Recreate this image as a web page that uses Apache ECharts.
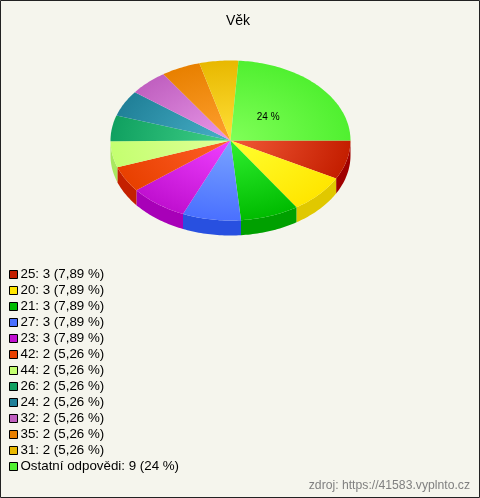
<!DOCTYPE html>
<html><head><meta charset="utf-8">
<style>html,body{margin:0;padding:0;background:#f5f5ed}#c{width:480px;height:498px}</style>
<script src="https://cdn.jsdelivr.net/npm/echarts@6/dist/echarts.min.js"></script>
</head><body><div id="c"></div>
<script>
const categories=['25','20','21','27','23','42','44','26','24','32','35','31','Ostatní odpovědi'];
const counts=[3,3,3,3,3,2,2,2,2,2,2,2,9];
const percents=[7.89,7.89,7.89,7.89,7.89,5.26,5.26,5.26,5.26,5.26,5.26,5.26,24];
const baseColors=['#c41e00','#ffe600','#00bb00','#4a70ff','#c010d0','#e84000','#c4ff70','#10a060','#208098','#c060c0','#e88000','#e8b800','#50f030'];
const lightColors=['#f25a38','#ffff30','#30f030','#7aa4ff','#f040ff','#ff6028','#e0ff98','#40d088','#48b0c8','#e898e8','#ffa030','#ffe038','#80ff58'];
const sideColors=['#a00000','#e0c800','#00a000','#2850e0','#a800b8','#c42000','#a8e860','#088048','#106878','#a048a0','#c86800','#c89800','#40d020'];
const cx=230.5,cy=140.5,rx=120,ry=80,depth=15;
const total=percents.reduce((a,b)=>a+b,0);
function arc(a,b,r,dy){const n=Math.max(2,Math.ceil((b-a)/0.02));const p=[];for(let i=0;i<=n;i++){const t=a+(b-a)*i/n;p.push([r*Math.cos(t),r*Math.sin(t)+dy]);}return p;}
function makeRender(idx){
  const before=percents.slice(0,idx).reduce((a,b)=>a+b,0);
  return function(params,api){
    const v=api.value(0);
    const a=before/total*2*Math.PI,b=(before+v)/total*2*Math.PI;
    const k=ry/rx,children=[];
    if(a<Math.PI){
      const sb=Math.min(b,Math.PI);
      const top=arc(a,sb,rx,0),bot=arc(a,sb,rx,depth/k).reverse();
      children.push({type:'polygon',z2:1,shape:{points:top.concat(bot)},style:{fill:sideColors[idx]}});
    }
    const fill={type:'radial',x:0,y:0,r:rx,global:true,colorStops:[{offset:0,color:lightColors[idx]},{offset:1,color:baseColors[idx]}]};
    children.push({type:'polygon',z2:2,shape:{points:[[0,0]].concat(arc(a,b,rx,0))},style:{fill:fill}});
    const out=[{type:'group',x:cx,y:cy,scaleY:k,children:children}];
    if(v/total>0.1){
      const m=(a+b)/2;
      out.push({type:'text',z2:3,x:cx+rx*0.43*Math.cos(m),y:cy+ry*0.43*Math.sin(m),
        style:{text:Math.round(v)+' %',fill:'#000',font:'10px "Liberation Sans"',align:'center',verticalAlign:'middle'}});
    }
    return {type:'group',children:out};
  };
}
const fmt=p=>Number.isInteger(p)?String(p):p.toFixed(2).replace('.',',');
const labels=categories.map((c,i)=>c+': '+counts[i]+' ('+fmt(percents[i])+' %)');
const series=labels.map((name,i)=>({
  type:'custom',name:name,coordinateSystem:'none',data:[[percents[i]]],
  itemStyle:{color:baseColors[i]},renderItem:makeRender(i),silent:true,animation:false
}));
const chart=echarts.init(document.getElementById('c'),null,{renderer:'canvas'});
chart.setOption({
  animation:false,backgroundColor:'#f5f5ed',
  title:{text:'Věk',left:233,top:9,textAlign:'center',textStyle:{fontFamily:'Liberation Sans',fontSize:14,fontWeight:'normal',color:'#000'}},
  legend:{orient:'vertical',left:9,top:268,itemWidth:8,itemHeight:8,itemGap:3,padding:0,icon:'rect',selectedMode:false,
    itemStyle:{borderColor:'#000',borderWidth:1,borderJoin:'miter'},
    textStyle:{fontFamily:'Liberation Sans',fontSize:13.33,color:'#000',padding:[0,0,0,-2],lineHeight:13,height:13},
    data:labels},
  graphic:[
    {type:'rect',silent:true,z:-1,shape:{x:0.5,y:0.5,width:479,height:497},style:{fill:'none',stroke:'#222',lineWidth:1}},
    {type:'text',silent:true,right:10,top:480,style:{text:'zdroj: https://41583.vyplnto.cz',fill:'#808080',font:'12.2px "Liberation Sans"'}}
  ],
  series:series
});
</script></body></html>
